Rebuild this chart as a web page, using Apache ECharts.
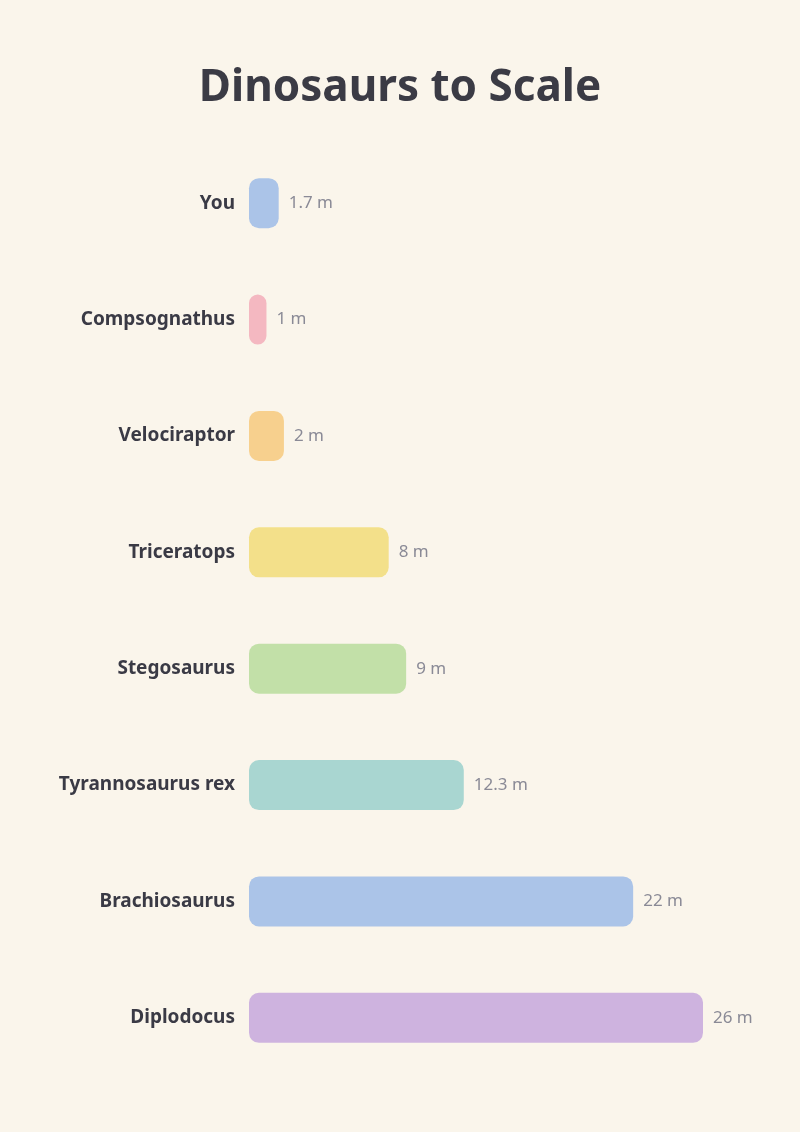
<!DOCTYPE html>
<html><head><meta charset="utf-8">
<script src="https://cdn.jsdelivr.net/npm/echarts@6/dist/echarts.min.js"></script>
<style>html,body{margin:0;padding:0;background:#faf5eb;}#c{width:800px;height:1132px;}</style>
</head><body><div id="c"></div>
<script>
const categories = ['You','Compsognathus','Velociraptor','Triceratops','Stegosaurus','Tyrannosaurus rex','Brachiosaurus','Diplodocus'];
const lengths = [1.7, 1, 2, 8, 9, 12.3, 22, 26];
const colors = ['#abc4e8','#f4b8c1','#f7d08e','#f3e08a','#c2e0a8','#a9d6d1','#abc4e8','#ceb3df'];
const FONT = '"Trebuchet MS", "Noto Sans", sans-serif';
const chart = echarts.init(document.getElementById('c'));
chart.setOption({
  backgroundColor: '#faf5eb',
  title: { text: 'Dinosaurs to Scale', left: 'center', top: 61,
    textStyle: { fontFamily: FONT, fontSize: 44, fontWeight: 'bold', color: '#3b3b45' } },
  grid: { left: 249, right: 97, top: 145, bottom: 56, containLabel: false },
  xAxis: { type: 'value', min: 0, max: 26, show: false },
  yAxis: { type: 'category', inverse: true, data: categories,
    axisLine: { show: false }, axisTick: { show: false },
    axisLabel: { margin: 14, fontFamily: FONT, fontSize: 19, fontWeight: 'bold', color: '#3a3a45' } },
  series: [{
    type: 'bar', barWidth: 50,
    data: lengths.map((v, i) => ({ value: v, itemStyle: { color: colors[i] } })),
    itemStyle: { borderRadius: 10 },
    label: { show: true, position: 'right', distance: 10, formatter: p => p.value + ' m',
      fontFamily: FONT, fontSize: 17, color: '#8a8a96' }
  }]
});
</script></body></html>
